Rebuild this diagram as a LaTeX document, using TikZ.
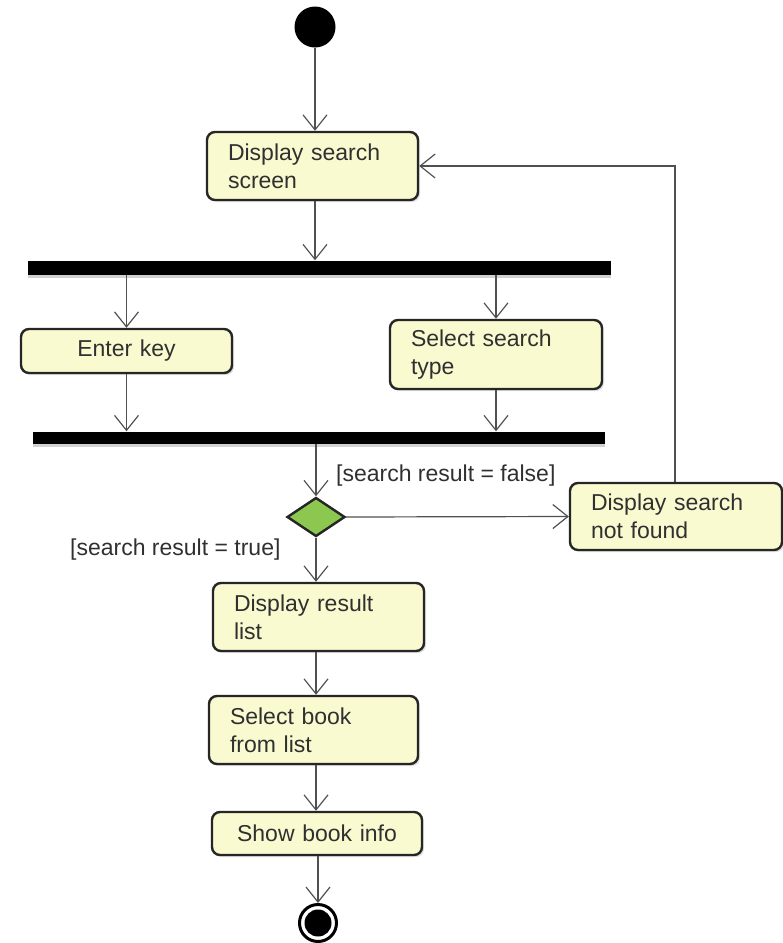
\documentclass[tikz,border=0pt]{standalone}
\usepackage{fontspec}
\setmainfont{Liberation Sans}
\usetikzlibrary{arrows.meta,shapes.geometric,shadows}
\definecolor{actfill}{HTML}{FAFAD0}
\definecolor{actedge}{HTML}{262626}
\definecolor{flow}{HTML}{505050}
\definecolor{txt}{HTML}{303030}
\definecolor{decfill}{HTML}{8CC850}
\begin{document}
\begin{tikzpicture}[x=1pt,y=-1pt,
  font=\fontsize{23}{28}\selectfont,
  act/.style={draw=actedge, line width=2.4pt, fill=actfill, rounded corners=8pt,
    text=txt, inner xsep=21pt, inner ysep=0pt, align=left,
    drop shadow={shadow xshift=2pt, shadow yshift=-2pt, fill=black!25}},
  actc/.style={act, align=center},
  bar/.style={fill=black, inner sep=0pt, minimum height=14pt,
    drop shadow={shadow xshift=0pt, shadow yshift=-3pt, fill=black!35}},
  arr/.style={draw=flow, line width=1.2pt, -{Straight Barb[length=15pt,width=24pt,line width=1.2pt]}},
  guard/.style={text=txt, inner sep=0pt, anchor=west}]
\useasboundingbox (0,0) rectangle (783,943);

% initial node
\node[circle, fill=black, minimum size=41pt, inner sep=0pt] (start) at (315,27) {};

% actions
\node[act, minimum width=211pt, minimum height=68pt, text width=169pt] (ds) at (312.5,166) {Display search\\screen};
\node[bar, minimum width=583pt] (f1) at (319.5,267.5) {};
\node[actc, minimum width=211pt, minimum height=44pt, text width=169pt] (ek) at (126.5,351) {Enter key};
\node[act, minimum width=212pt, minimum height=69pt, text width=170pt] (st) at (496,354.5) {Select search\\type};
\node[bar, minimum width=572pt, minimum height=12pt] (j1) at (319,437.5) {};

% decision
\node[diamond, draw=actedge, line width=2.4pt, fill=decfill, minimum width=58pt, minimum height=39pt, inner sep=0pt, aspect=1.5] (dm) at (316,517) {};
\node[act, minimum width=212pt, minimum height=67pt, text width=170pt] (nf) at (676,516.5) {Display search\\not found};
\node[act, minimum width=211pt, minimum height=68pt, text width=169pt] (rl) at (318.5,617) {Display result\\list};
\node[act, minimum width=209pt, minimum height=68pt, text width=167pt] (sb) at (313.5,730) {Select book\\from list};
\node[actc, minimum width=210pt, minimum height=43pt, text width=168pt] (sh) at (317,833.5) {Show book info};

% final node
\node[circle, draw=black, line width=3pt, fill=white, minimum size=37pt, inner sep=0pt] (fin) at (318,923) {};
\node[circle, fill=black, minimum size=27pt, inner sep=0pt] (finc) at (fin) {};

% guards
\node[guard] (gf) at (336,476) {[search result = false]};
\node[guard] (gt) at (70,550) {[search result = true]};

% loop-back corner
\coordinate (lp) at (675,0);

% control flow
\draw[arr] (start) -- (start |- ds.north);
\draw[arr] (start |- ds.south) -- (start |- f1.north);
\draw[arr] (f1.south -| ek.north) -- (ek.north);
\draw[arr] (f1.south -| st.north) -- (st.north);
\draw[arr] (ek.south) -- (ek.south |- j1.north);
\draw[arr] (st.south) -- (st.south |- j1.north);
\draw[arr] (j1.south -| dm.north) -- (dm.north);
\draw[arr] (dm.east) -- (nf.west);
\draw[arr] (nf.north -| lp) |- (ds.east);
\draw[arr] (dm.south) -- (dm.south |- rl.north);
\draw[arr] (rl.south -| dm.south) -- (sb.north -| dm.south);
\draw[arr] (sb.south -| dm.south) -- (sh.north -| dm.south);
\draw[arr] (sh.south -| fin) -- (fin.north);
\end{tikzpicture}
\end{document}
